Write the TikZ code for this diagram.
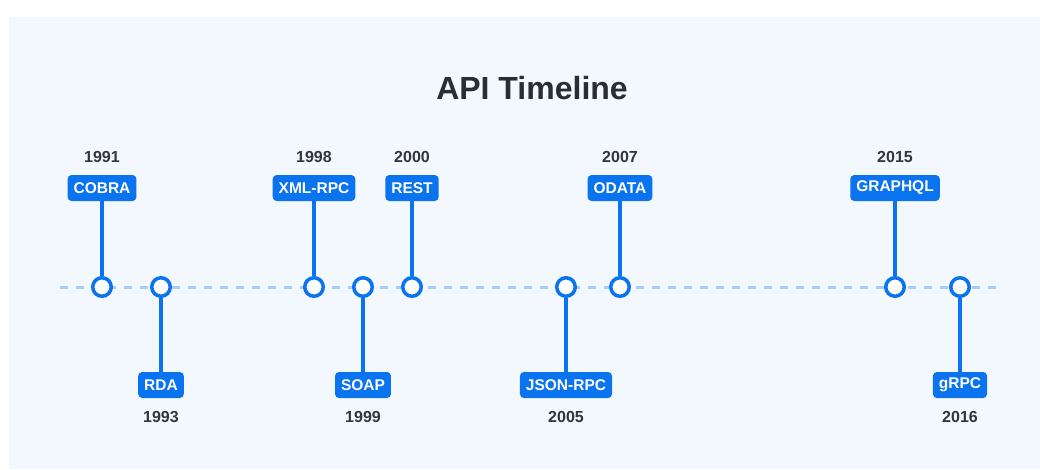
\documentclass[tikz,border=0pt]{standalone}
\usepackage{fontspec}
\setmainfont{Liberation Sans}
\definecolor{panel}{HTML}{F3F8FE}
\definecolor{apiblue}{HTML}{0A73F0}
\definecolor{dashblue}{HTML}{A6CFF8}
\definecolor{titlecol}{HTML}{2A2D34}
\definecolor{yearcol}{HTML}{333539}
\tikzset{
  apibox/.style={fill=apiblue, rounded corners=4pt, text=white, font=\fontsize{15.5}{15.5}\selectfont\bfseries, inner xsep=6pt, inner ysep=0pt, minimum height=26pt, anchor=center},
  yearlbl/.style={text=yearcol, font=\fontsize{16}{16}\selectfont\bfseries, inner sep=0pt, anchor=center},
  dot/.style={circle, draw=apiblue, line width=3.5pt, fill=white, minimum size=18.5pt, inner sep=0pt},
  stem/.style={draw=apiblue, line width=3.5pt},
  axis/.style={draw=dashblue, line width=3pt, dash pattern=on 8pt off 8pt}
}
\begin{document}
\begin{tikzpicture}[x=1pt,y=-1pt]
\useasboundingbox (0,0) rectangle (1040,469);
\fill[white] (0,0) rectangle (1040,469);
\fill[panel] (9,17) rectangle (1040,469);
\node[text=titlecol, font=\fontsize{32}{33}\selectfont\bfseries, inner sep=0pt] (title) at (532,88) {API Timeline};
\coordinate (axL) at (60,287);
\coordinate (axR) at (1003,287);
\draw[axis] (axL) -- (axR);
% upper items
\foreach \id/\x/\name/\yr in {cobra/102/COBRA/1991, xml/314/XML-RPC/1998, rest/412/REST/2000, odata/620/ODATA/2007, gql/895/GRAPHQL/2015}{
  \node[apibox] (\id box) at (\x,188) {\name};
  \node[yearlbl] (\id yr) at (\x,157) {\yr};
  \node[dot] (\id dot) at (\x,287) {};
  \draw[stem] (\id box.south) -- (\id dot.north);
}
% lower items
\foreach \id/\x/\name/\yr in {rda/161/RDA/1993, soap/363/SOAP/1999, json/566/JSON-RPC/2005, grpc/960/gRPC/2016}{
  \node[apibox] (\id box) at (\x,385) {\name};
  \node[yearlbl] (\id yr) at (\x,417) {\yr};
  \node[dot] (\id dot) at (\x,287) {};
  \draw[stem] (\id dot.south) -- (\id box.north);
}
\end{tikzpicture}
\end{document}
